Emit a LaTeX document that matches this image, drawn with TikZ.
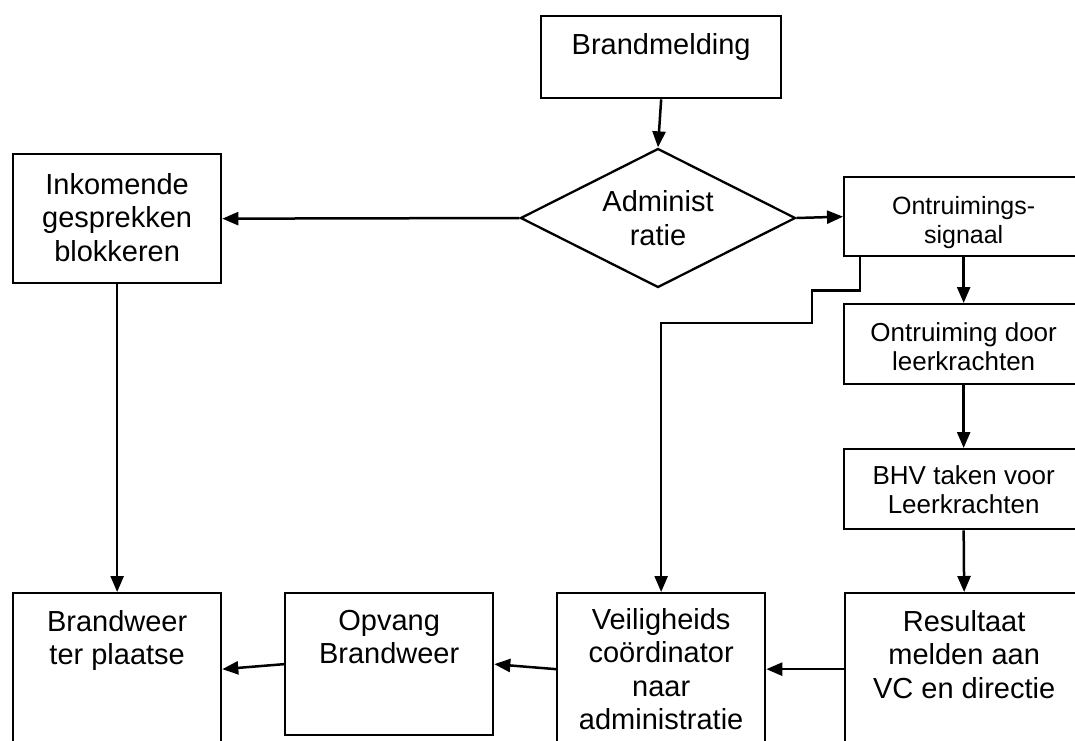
\documentclass[tikz,border=0pt]{standalone}
\usepackage{fontspec}
\setmainfont{Liberation Sans}
\usetikzlibrary{arrows.meta,shapes.geometric}

\newcommand{\bigtxt}{\fontsize{29pt}{33.5pt}\selectfont}
\newcommand{\midtxt}{\fontsize{26pt}{29pt}\selectfont}
\newcommand{\sigtxt}{\fontsize{25pt}{29pt}\selectfont}
% text set at the top of a box: [pad]{width}{height}{lines}
\newcommand{\tbox}[4][17pt]{\parbox[c][#3][t]{#2}{\centering\vspace*{#1}#4}}

\begin{document}
\begin{tikzpicture}[x=1pt, y=-1pt, line width=2.5pt, >={Triangle[length=16pt,width=13pt]},
    box/.style={draw, line width=2.3pt, inner sep=0pt, anchor=north west, font=\bigtxt}]
    % Ontruimingsplan bij brand
    \useasboundingbox (0,0) rectangle (1075,740);
    \clip (0,0) rectangle (1075,740);

    \node (bm) at (540,15) [box] {\tbox{240pt}{82pt}{Brandmelding}};
    \node (adm) at (658,218) [diamond, draw, line width=2.3pt, aspect=1.98, minimum width=275pt, minimum height=139pt, inner sep=0pt, align=center, font=\bigtxt] {Administ\\ratie};
    \node (ink) at (12,153) [box] {\tbox[19pt]{208pt}{129pt}{Inkomende\\gesprekken\\blokkeren}};
    \node (sig) at (843,176) [box, font=\sigtxt] {\tbox[19pt]{239pt}{79pt}{Ontruimings-\\signaal}};
    \node (door) at (843,303) [box, font=\midtxt] {\tbox[18pt]{239pt}{80pt}{Ontruiming door\\leerkrachten}};
    \node (bhv) at (843,448) [box, font=\midtxt] {\tbox[16pt]{239pt}{80pt}{BHV taken voor\\Leerkrachten}};

    \node (brw) at (12,592) [box] {\tbox{208pt}{152pt}{Brandweer\\ter plaatse}};
    \node (opv) at (284,592) [box] {\tbox{208pt}{142pt}{Opvang\\Brandweer}};
    \node (vc) at (556,592) [box] {\tbox[15pt]{208pt}{152pt}{Veiligheids\\coördinator\\naar\\administratie}};
    \node (res) at (844,592) [box] {\tbox{238pt}{152pt}{Resultaat\\melden aan\\VC en directie}};

    \draw [->] (bm.south) -- (adm.north);
    \draw [->] (adm.west) -- (ink.east);
    \draw [->] (adm.east) -- (sig.west);
    \draw [->] (ink.south) -- (brw.north);
    \draw [->] (sig.south) -- (door.north);
    \draw [->] (door.south) -- (bhv.north);
    \draw [->] (bhv.south) -- (res.north);
    \draw [->] (res.west) -- (vc.east);
    \draw [->] (vc.west) -- (opv.east);
    \draw [->] (opv.west) -- (brw.east);

    \coordinate (jog) at (812,323);
    \draw [->] ([xshift=17pt]sig.south west) -- ++(0,33) -| (jog) -| (vc.north);
\end{tikzpicture}
\end{document}
